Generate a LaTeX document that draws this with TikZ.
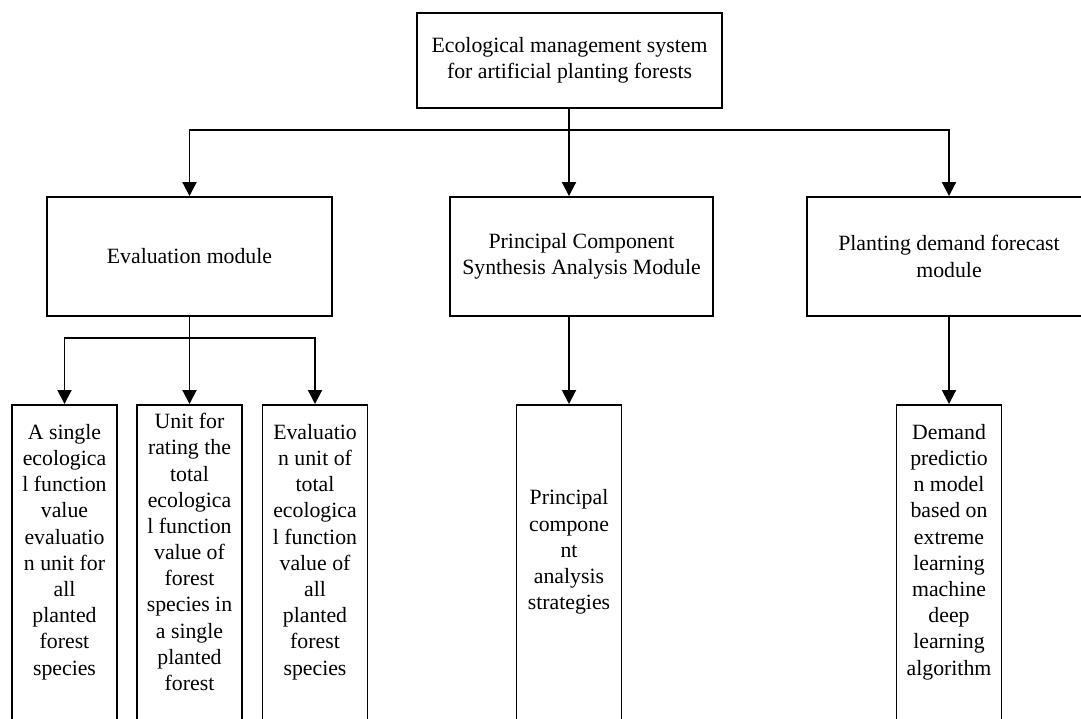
\documentclass[tikz,border=0pt]{standalone}
\usepackage{fontspec}
\setmainfont{Liberation Serif}
\usetikzlibrary{arrows.meta,positioning}

\begin{document}
\begin{tikzpicture}[
x=0.02cm, y=-0.02cm,
font=\fontsize{12.4}{14.9}\selectfont,
box/.style={rectangle, draw, line width=1.1pt, align=center, inner sep=0pt},
leaf/.style={box, anchor=north, minimum width=2.1cm, minimum height=8cm},
leaftext/.style={align=center, inner sep=0pt},
line/.style={line width=1.1pt},
arrow/.style={-{Triangle[length=0.28cm, width=0.28cm]}, line width=1.1pt}
]
\useasboundingbox (0,0) rectangle (1081,718);
% top level
\node[box, minimum width=6.1cm, minimum height=1.9cm] (root) at (569.5,60.5) {Ecological management system\\for artificial planting forests};
% modules
\node[box, minimum width=5.7cm, minimum height=2.38cm] (evalmod) at (189.5,256.5) {Evaluation module};
\node[box, minimum width=5.26cm, minimum height=2.38cm] (pcamod) at (581.5,256.5) {Principal Component\\Synthesis Analysis Module};
\node[box, minimum width=5.68cm, minimum height=2.38cm] (demandmod) at (949,256.5) {Planting demand forecast\\module};
% units
\node[leaf] (unitA) at (64.5,404) {};
\node[leaf] (unitB) at (189.5,404) {};
\node[leaf] (unitC) at (315,404) {};
\node[leaf] (pcaunit) at (569,404) {};
\node[leaf] (demandunit) at (949,404) {};
\node[leaftext] (unitAtext) at ([yshift=-2.96cm]unitA.north) {A single\\ecologica\\l function\\value\\evaluatio\\n unit for\\all\\planted\\forest\\species};
\node[leaftext] (unitBtext) at ([yshift=-2.96cm]unitB.north) {Unit for\\rating the\\total\\ecologica\\l function\\value of\\forest\\species in\\a single\\planted\\forest};
\node[leaftext] (unitCtext) at ([yshift=-2.96cm]unitC.north) {Evaluatio\\n unit of\\total\\ecologica\\l function\\value of\\all\\planted\\forest\\species};
\node[leaftext] (pcatext) at ([yshift=-2.96cm]pcaunit.north) {Principal\\compone\\nt\\analysis\\strategies};
\node[leaftext] (demandtext) at ([yshift=-2.96cm]demandunit.north) {Demand\\predictio\\n model\\based on\\extreme\\learning\\machine\\deep\\learning\\algorithm};
% branch points
\coordinate (split) at (569,130);
\coordinate (evalsplit) at (189.5,338);
\draw[line] (root.south -| split) -- (split);
\draw[arrow] (split) -| (evalmod.north);
\draw[arrow] (split) -- (split |- pcamod.north);
\draw[arrow] (split) -| (demandmod.north);
\draw[line] (evalmod.south) -- (evalsplit);
\draw[arrow] (evalsplit) -| (unitA.north);
\draw[arrow] (evalsplit) -- (unitB.north);
\draw[arrow] (evalsplit) -| (unitC.north);
\draw[arrow] (split |- pcamod.south) -- (pcaunit.north);
\draw[arrow] (demandmod.south -| demandunit.north) -- (demandunit.north);
\end{tikzpicture}
\end{document}
